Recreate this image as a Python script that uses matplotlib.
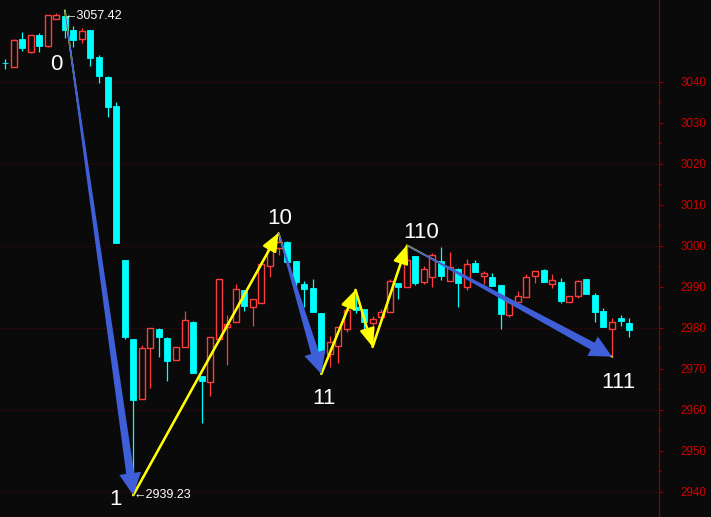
import matplotlib
matplotlib.use("Agg")
import matplotlib.pyplot as plt
import numpy as np
from matplotlib.patches import Polygon
from matplotlib.ticker import FixedLocator

# K线数据 (读自截图)
opens = [3044.6, 3043.6, 3050.5, 3047.4, 3051.5, 3048.9, 3055.4, 3056.1, 3052.7, 3050.6,
         3052.7, 3046.1, 3041.2, 3034.1, 2996.6, 2977.3, 2962.8, 2975.0, 2979.7, 2977.5,
         2972.2, 2975.3, 2981.4, 2968.4, 2966.9, 2977.2, 2980.3, 2981.5, 2989.3, 2985.2,
         2986.2, 2995.0, 2999.4, 3000.9, 2996.3, 2990.7, 2989.8, 2983.6, 2973.7, 2975.7,
         2979.7, 2985.0, 2984.6, 2981.2, 2982.8, 2983.9, 2990.9, 2989.9, 2997.6, 2991.3,
         2992.5, 2996.3, 2991.5, 2994.4, 2989.9, 2995.8, 2992.6, 2992.4, 2990.5, 2983.2,
         2986.4, 2987.5, 2992.8, 2994.1, 2990.7, 2991.1, 2986.3, 2987.9, 2992.0, 2988.0,
         2984.1, 2979.7, 2982.4, 2981.1]
highs = [3045.6, 3050.4, 3052.2, 3051.5, 3052.0, 3056.3, 3056.8, 3057.42, 3053.7, 3053.1,
         3052.7, 3046.6, 3041.5, 3035.1, 2996.6, 2977.3, 2975.9, 2979.9, 2980.1, 2977.9,
         2975.4, 2984.1, 2981.7, 2968.4, 2977.7, 2991.9, 2983.2, 2990.7, 2989.3, 2987.0,
         2995.5, 2999.2, 3003.2, 3001.3, 2996.3, 2991.5, 2992.0, 2983.6, 2978.0, 2980.2,
         2984.4, 2989.3, 2984.6, 2983.0, 2984.6, 2991.9, 2990.9, 3000.2, 2997.6, 2995.1,
         2998.4, 2999.8, 2998.6, 2994.7, 2996.8, 2996.6, 2993.9, 2993.3, 2990.5, 2986.4,
         2989.0, 2993.1, 2993.9, 2994.4, 2993.2, 2992.1, 2987.9, 2991.8, 2992.0, 2988.6,
         2984.8, 2982.4, 2983.2, 2982.4]
lows = [3043.1, 3043.6, 3047.6, 3047.1, 3047.4, 3048.6, 3055.4, 3050.7, 3048.6, 3049.6,
        3044.0, 3039.7, 3031.5, 3000.8, 2977.4, 2939.23, 2962.8, 2965.3, 2973.0, 2967.1,
        2972.2, 2975.3, 2969.1, 2956.8, 2963.5, 2977.2, 2971.0, 2981.5, 2984.2, 2980.5,
        2986.2, 2992.5, 2997.8, 2996.2, 2989.7, 2985.2, 2984.0, 2968.8, 2970.6, 2971.4,
        2979.1, 2983.7, 2978.3, 2975.4, 2982.8, 2983.9, 2987.0, 2989.9, 2990.5, 2990.7,
        2990.1, 2991.7, 2991.5, 2985.2, 2989.2, 2993.7, 2990.7, 2990.3, 2979.7, 2982.8,
        2986.4, 2987.5, 2991.0, 2991.3, 2989.7, 2986.2, 2986.3, 2987.2, 2988.3, 2981.5,
        2980.2, 2973.0, 2980.5, 2977.9]
closes = [3044.6, 3050.2, 3048.4, 3051.5, 3048.9, 3056.3, 3056.3, 3052.7, 3050.2, 3052.4,
          3045.9, 3041.5, 3034.0, 3000.8, 2977.9, 2962.4, 2975.0, 2979.9, 2977.7, 2972.0,
          2975.4, 2981.9, 2969.1, 2967.1, 2977.7, 2991.9, 2981.0, 2989.4, 2985.4, 2987.0,
          2995.5, 2999.2, 3000.9, 2996.2, 2991.3, 2989.5, 2984.0, 2973.9, 2976.5, 2980.2,
          2984.4, 2984.4, 2981.5, 2982.2, 2983.9, 2991.5, 2990.1, 2996.7, 2991.0, 2994.3,
          2997.8, 2992.8, 2994.8, 2991.0, 2995.5, 2993.7, 2993.3, 2990.3, 2983.4, 2986.4,
          2987.8, 2992.4, 2993.9, 2991.3, 2991.7, 2986.7, 2987.9, 2991.5, 2988.3, 2984.0,
          2980.2, 2981.5, 2981.6, 2979.4]

# 波浪转折点: K线序号, 价格, 标签
wave_idx = [7, 15, 32, 37, 41, 43, 47, 71]
wave_price = [3057.42, 2939.23, 3003.2, 2968.8, 2989.3, 2975.4, 3000.2, 2973.0]
wave_names = ["0", "1", "10", "11", "", "", "110", "111"]
# 标签偏移 (像素)
wave_offsets = [(-9, -59), (-18, -10), (1, 9), (3, -30), (0, 0), (0, 0), (14, 7), (6, -31)]
# 哪一段用蓝色粗箭头
blue_segments = [0, 2, 6]

grid_levels = [2940, 2960, 2980, 3000, 3020, 3040]
major_ticks = list(range(2940, 3041, 10))
minor_ticks = list(range(2945, 3036, 10))

bg = "#0a0a0a"
red = "#ff3c3c"
cyan = "#00ffff"
yellow = "#ffff00"
blue = "#3f5fd8"
dark_red = "#8b0000"

plt.rcParams["font.family"] = ["Liberation Sans", "DejaVu Sans"]

fig = plt.figure(figsize=(7.11, 5.17), dpi=100, facecolor=bg)
ax = fig.add_axes([0, 0, 659 / 711, 1])
ax.set_facecolor(bg)
ax.set_xlim(-0.585, 76.5)
ax.set_ylim(2933.9, 3060.0)

# 网格 (点线)
for v in grid_levels:
    ax.axhline(v, color="#7a0000", lw=0.72, ls=(0, (1, 3)), zorder=0)

# K线
x = np.arange(len(opens))
o = np.array(opens)
c = np.array(closes)
h = np.array(highs)
l = np.array(lows)
up = c > o
col = np.where(up, red, cyan)
ax.vlines(x, l, h, colors=col, lw=0.9, zorder=2)
bottom = np.minimum(o, c)
height = np.maximum(np.abs(c - o), 0.08)
ax.bar(x[up], height[up], bottom=bottom[up], width=0.7, facecolor=bg,
       edgecolor=red, linewidth=1.0, zorder=3)
ax.bar(x[~up], height[~up], bottom=bottom[~up], width=0.7, facecolor=cyan,
       edgecolor=cyan, linewidth=0.6, zorder=3)

# 黄色连线
wx = [x[i] for i in wave_idx]
ax.plot(wx, wave_price, color=yellow, lw=1.2, zorder=4)


def tapered_arrow(p0, p1):
    T = ax.transData
    s = T.transform(p0)
    e = T.transform(p1)
    d = e - s
    u = d / np.hypot(*d)
    n = np.array([-u[1], u[0]])
    b = e - u * 22
    pts = [s + n * 0.5, b + n * 4, b + n * 11, e, b - n * 11, b - n * 4, s - n * 0.5]
    ax.add_patch(Polygon(T.inverted().transform(pts), closed=True,
                         facecolor=blue, edgecolor="none", zorder=6))


for k in range(len(wave_idx) - 1):
    p0 = (wx[k], wave_price[k])
    p1 = (wx[k + 1], wave_price[k + 1])
    if k in blue_segments:
        tapered_arrow(p0, p1)
    else:
        ax.annotate("", xy=p1, xytext=p0, zorder=5,
                    arrowprops=dict(arrowstyle="-|>,head_length=0.6,head_width=0.25",
                                    color=yellow, lw=1.8, shrinkA=0, shrinkB=0,
                                    mutation_scale=18))

for name, xi, yi, off in zip(wave_names, wx, wave_price, wave_offsets):
    if name:
        ax.annotate(name, xy=(xi, yi), xytext=off, textcoords="offset pixels",
                    color="white", fontsize=16, ha="center", va="baseline", zorder=7)

# 最高/最低价标注
ax.annotate("←%.2f" % highs[7], xy=(x[7], highs[7]), xytext=(0, -5),
            textcoords="offset pixels", color="white", fontsize=9,
            ha="left", va="center", zorder=7)
ax.annotate("←%.2f" % lows[15], xy=(x[15], lows[15]), xytext=(0, 0),
            textcoords="offset pixels", color="white", fontsize=9,
            ha="left", va="center", zorder=7)

# 右侧价格轴
for side in ["left", "top", "bottom"]:
    ax.spines[side].set_visible(False)
ax.spines["right"].set_color(dark_red)
ax.spines["right"].set_linewidth(0.9)
ax.set_xticks([])
ax.yaxis.tick_right()
ax.yaxis.set_major_locator(FixedLocator(major_ticks))
ax.yaxis.set_minor_locator(FixedLocator(minor_ticks))
ax.tick_params(axis="y", which="major", length=3, width=0.8, color=dark_red,
               labelcolor="#d00000", labelsize=8.4, pad=12.5)
ax.tick_params(axis="y", which="minor", length=1.5, width=0.8, color=dark_red)

fig.savefig("out.png", dpi=100, facecolor=bg)
